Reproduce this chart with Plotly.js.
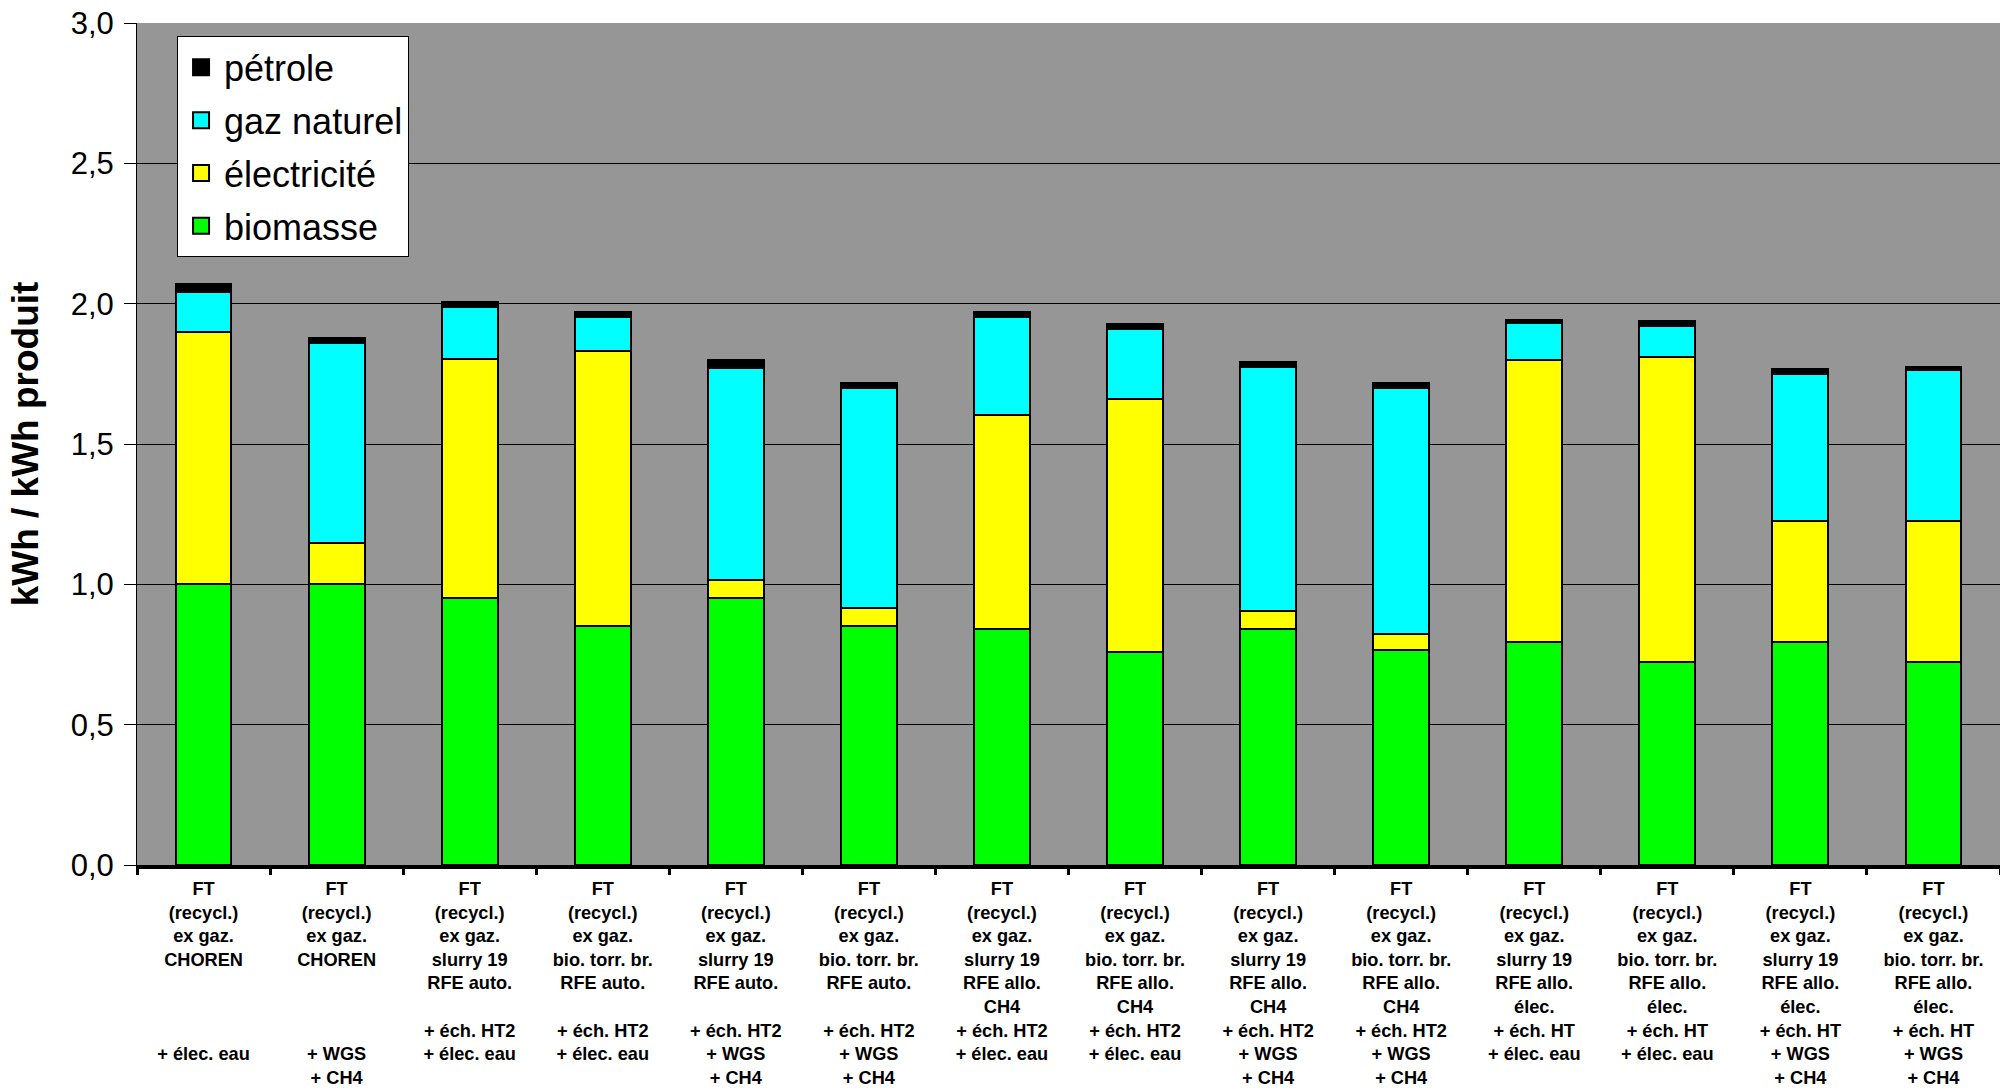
<!DOCTYPE html>
<html>
<head>
<meta charset="utf-8">
<script src="https://cdn.plot.ly/plotly-3.0.1.min.js"></script>
<style>html,body{margin:0;padding:0;background:#fff;}#chart{width:2000px;height:1092px;}</style>
</head>
<body>
<div id="chart"></div>
<script>
const categories = [
  "FT<br>(recycl.)<br>ex gaz.<br>CHOREN<br> <br> <br> <br>+ élec. eau",
  "FT<br>(recycl.)<br>ex gaz.<br>CHOREN<br> <br> <br> <br>+ WGS<br>+ CH4",
  "FT<br>(recycl.)<br>ex gaz.<br>slurry 19<br>RFE auto.<br> <br>+ éch. HT2<br>+ élec. eau",
  "FT<br>(recycl.)<br>ex gaz.<br>bio. torr. br.<br>RFE auto.<br> <br>+ éch. HT2<br>+ élec. eau",
  "FT<br>(recycl.)<br>ex gaz.<br>slurry 19<br>RFE auto.<br> <br>+ éch. HT2<br>+ WGS<br>+ CH4",
  "FT<br>(recycl.)<br>ex gaz.<br>bio. torr. br.<br>RFE auto.<br> <br>+ éch. HT2<br>+ WGS<br>+ CH4",
  "FT<br>(recycl.)<br>ex gaz.<br>slurry 19<br>RFE allo.<br>CH4<br>+ éch. HT2<br>+ élec. eau",
  "FT<br>(recycl.)<br>ex gaz.<br>bio. torr. br.<br>RFE allo.<br>CH4<br>+ éch. HT2<br>+ élec. eau",
  "FT<br>(recycl.)<br>ex gaz.<br>slurry 19<br>RFE allo.<br>CH4<br>+ éch. HT2<br>+ WGS<br>+ CH4",
  "FT<br>(recycl.)<br>ex gaz.<br>bio. torr. br.<br>RFE allo.<br>CH4<br>+ éch. HT2<br>+ WGS<br>+ CH4",
  "FT<br>(recycl.)<br>ex gaz.<br>slurry 19<br>RFE allo.<br>élec.<br>+ éch. HT<br>+ élec. eau",
  "FT<br>(recycl.)<br>ex gaz.<br>bio. torr. br.<br>RFE allo.<br>élec.<br>+ éch. HT<br>+ élec. eau",
  "FT<br>(recycl.)<br>ex gaz.<br>slurry 19<br>RFE allo.<br>élec.<br>+ éch. HT<br>+ WGS<br>+ CH4",
  "FT<br>(recycl.)<br>ex gaz.<br>bio. torr. br.<br>RFE allo.<br>élec.<br>+ éch. HT<br>+ WGS<br>+ CH4"
];
const categoryIds = categories.map((c, i) => "c" + i);

const biomasse    = [1.00, 1.00, 0.95, 0.85, 0.95, 0.85, 0.84, 0.76, 0.84, 0.765, 0.795, 0.725, 0.795, 0.725];
const electricite = [0.90, 0.148, 0.852, 0.98, 0.065, 0.065, 0.765, 0.90, 0.064, 0.058, 1.005, 1.085, 0.43, 0.50];
const gazNaturel  = [0.143, 0.713, 0.186, 0.121, 0.756, 0.783, 0.346, 0.25, 0.871, 0.877, 0.131, 0.111, 0.524, 0.538];
const petrole     = [0.026, 0.018, 0.019, 0.019, 0.028, 0.018, 0.019, 0.019, 0.017, 0.018, 0.012, 0.017, 0.018, 0.011];

const seriesNames  = ["biomasse", "électricité", "gaz naturel", "pétrole"];
const seriesColors = ["#00FF00", "#FFFF00", "#00FFFF", "#000000"];
const seriesValues = [biomasse, electricite, gazNaturel, petrole];

const yTickVals = [0, 0.5, 1.0, 1.5, 2.0, 2.5, 3.0];

const FONT = "Liberation Sans, Arial, Helvetica, sans-serif";

const data = [];
// stacked bars (bottom to top)
seriesNames.forEach((name, i) => {
  data.push({
    type: "bar", name: name, x: categoryIds, y: seriesValues[i],
    showlegend: false,
    marker: {color: seriesColors[i], line: {color: "#000", width: 2}},
    hoverinfo: "y+name"
  });
});
// legend-only entries (top to bottom: pétrole, gaz naturel, électricité, biomasse)
[3, 2, 1, 0].forEach((i, k) => {
  data.push({
    type: "scatter", mode: "markers", name: seriesNames[i],
    x: [null], y: [null],
    legendgroup: "g" + k,
    marker: {symbol: "square", size: 16, color: seriesColors[i], line: {color: "#000", width: 2}},
    hoverinfo: "skip"
  });
});

const layout = {
  width: 2000, height: 1092,
  margin: {l: 137, r: 0, t: 23, b: 227, pad: 0},
  paper_bgcolor: "#ffffff",
  plot_bgcolor: "#969696",
  barmode: "stack",
  bargap: 0.58,
  separators: ", ",
  font: {family: FONT, color: "#000"},
  showlegend: true,
  legend: {
    x: 0.0215, y: 0.984, xanchor: "left", yanchor: "top",
    bgcolor: "#ffffff", bordercolor: "#000", borderwidth: 1,
    font: {size: 36, family: FONT, color: "#000"},
    traceorder: "grouped", tracegroupgap: 3,
    itemsizing: "trace", itemwidth: 36
  },
  xaxis: {
    type: "category",
    tickvals: categoryIds, ticktext: categories,
    tickson: "boundaries",
    ticks: "outside", ticklen: 6, tickwidth: 3, tickcolor: "#000",
    ticklabelstandoff: 4,
    showline: true, linecolor: "#000", linewidth: 4,
    showgrid: false,
    tickangle: 0,
    tickfont: {size: 18.2, family: FONT, color: "#000", weight: "bold"},
    range: [-0.5, 13.5]
  },
  yaxis: {
    range: [0, 3.0],
    tickvals: yTickVals,
    tickformat: ".1f",
    ticks: "outside", ticklen: 12, tickwidth: 1, tickcolor: "#000",
    ticklabelstandoff: 4,
    showline: true, linecolor: "#000", linewidth: 1,
    showgrid: true, gridcolor: "#000", gridwidth: 1,
    zeroline: false,
    tickfont: {size: 31, family: FONT, color: "#000"},
    title: {text: "kWh / kWh produit", font: {size: 37, family: FONT, color: "#000", weight: "bold"}, standoff: 20}
  }
};

Plotly.newPlot("chart", data, layout, {displayModeBar: false, staticPlot: true});
</script>
</body>
</html>
